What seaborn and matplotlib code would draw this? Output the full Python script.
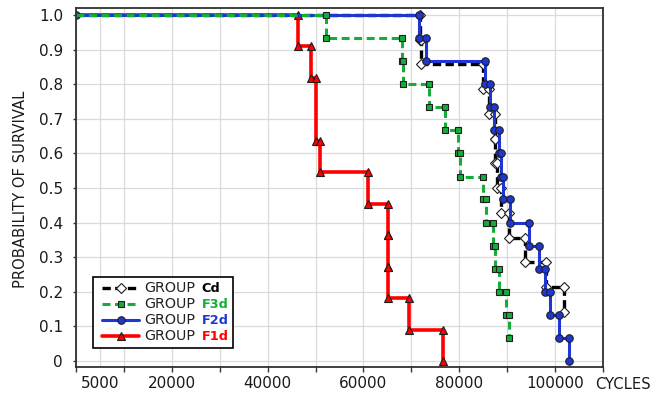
import numpy as np
import pandas as pd
import matplotlib
matplotlib.use("Agg")
import matplotlib.pyplot as plt
import seaborn as sns
from matplotlib.ticker import FixedLocator, FixedFormatter
from matplotlib.lines import Line2D
from matplotlib.offsetbox import AnchoredOffsetbox, DrawingArea, HPacker, VPacker, TextArea

# Kaplan-Meier steps: cycles at each failure and survival after it
cd_cycles = [71700, 72000, 85000, 86150, 87400, 87500, 87950, 88650, 90450, 93650, 98000, 101900]
cd_surv = [0.929, 0.857, 0.786, 0.714, 0.643, 0.571, 0.500, 0.429, 0.357, 0.286, 0.214, 0.143]

f3d_cycles = [52100, 68050, 68150, 73750, 77100, 79700, 80200, 84950, 85650, 87000, 87450, 88350, 89850, 90300]
f3d_surv = [0.933, 0.867, 0.800, 0.733, 0.667, 0.600, 0.533, 0.467, 0.400, 0.333, 0.267, 0.200, 0.133, 0.067]

f2d_cycles = [71650, 73150, 85350, 86500, 87150, 88350, 88750, 89200, 90550, 94450, 96650, 97900, 98900, 100850, 102800]
f2d_surv = [0.933, 0.867, 0.800, 0.733, 0.667, 0.600, 0.533, 0.467, 0.400, 0.333, 0.267, 0.200, 0.133, 0.067, 0.0]

f1d_cycles = [46400, 49100, 50000, 50950, 61050, 65200, 65200, 65200, 69600, 76500]
f1d_surv = [0.909, 0.818, 0.636, 0.545, 0.455, 0.364, 0.273, 0.182, 0.091, 0.0]

groups = ["Cd", "F3d", "F2d", "F1d"]
x_labels = ["", "", "20000", "", "40000", "", "60000", "", "80000", "", "100000", ""]
y_labels = ["0", "0.1", "0.2", "0.3", "0.4", "0.5", "0.6", "0.7", "0.8", "0.9", "1.0"]


def km_steps(group, cycles, surv):
    xs, ys, prev = [0], [1.0], 1.0
    for t, s in zip(cycles, surv):
        xs += [t, t]
        ys += [prev, s]
        prev = s
    return pd.DataFrame({"group": group, "cycles": xs, "survival": ys})


df = pd.concat([
    km_steps("Cd", cd_cycles, cd_surv),
    km_steps("F3d", f3d_cycles, f3d_surv),
    km_steps("F2d", f2d_cycles, f2d_surv),
    km_steps("F1d", f1d_cycles, f1d_surv),
])

colors = {"Cd": "#000000", "F3d": "#14ad3a", "F2d": "#2036d2", "F1d": "#ff0000"}
styles = {
    "F1d": dict(marker="^", linestyle="-", linewidth=2.6, markersize=5.3, markerfacecolor="#ff0000"),
    "Cd": dict(marker="D", linestyle=(0, (2.5, 1.3)), linewidth=2.4, markersize=4.6, markerfacecolor="white"),
    "F2d": dict(marker="o", linestyle="-", linewidth=2.2, markersize=5.4, markerfacecolor="#2036d2"),
    "F3d": dict(marker="s", linestyle=(0, (2.6, 1.5)), linewidth=2.2, markersize=4.3, markerfacecolor="#14ad3a"),
}
edge = "#1e1e1e"

sns.set_theme(style="whitegrid")
plt.rcParams["font.family"] = ["DejaVu Sans"]

fig = plt.figure(figsize=(6.66, 3.95), dpi=100)
ax = fig.add_axes([76 / 666, 1 - 367 / 395, 527 / 666, 359 / 395])

# drawing order: red at the bottom, green dashes on top
for g in ["F1d", "Cd", "F2d", "F3d"]:
    sub = df[df["group"] == g]
    sns.lineplot(data=sub, x="cycles", y="survival", sort=False, estimator=None, errorbar=None,
                 ax=ax, color=colors[g], markeredgecolor=edge, markeredgewidth=0.8,
                 markevery=slice(0, None) if g == "F2d" else slice(1, None),
                 **styles[g])

ax.set_xlim(0, 110000)
ax.set_ylim(-0.017, 1.02)
ax.set_xlabel("")
ax.set_ylabel("")

ax.xaxis.set_major_locator(FixedLocator(list(range(0, 110001, 10000))))
ax.xaxis.set_major_formatter(FixedFormatter(x_labels))
ax.xaxis.set_minor_locator(FixedLocator([5000]))
ax.xaxis.set_minor_formatter(FixedFormatter(["5000"]))
ax.yaxis.set_major_locator(FixedLocator(np.linspace(0, 1, 11)))
ax.yaxis.set_major_formatter(FixedFormatter(y_labels))

ax.tick_params(axis="x", which="major", bottom=True, direction="out", length=3.6, width=1,
               color="#333333", labelsize=11, pad=3, labelcolor="#1a1a1a")
ax.tick_params(axis="x", which="minor", bottom=True, length=0, labelsize=11, pad=6.6,
               labelcolor="#1a1a1a")
ax.tick_params(axis="y", left=True, direction="out", length=2.5, width=1, color="#333333",
               labelsize=11, pad=6.9, labelcolor="#1a1a1a")

ax.set_axisbelow(True)
ax.xaxis.grid(True, which="both", color="#dadada", linewidth=0.9)
ax.yaxis.grid(True, which="major", color="#dadada", linewidth=0.9)
for s in ax.spines.values():
    s.set_visible(True)
    s.set_color("#303030")
    s.set_linewidth(1.3)

# legend with plain "GROUP" and a bold coloured group name
pt = 72 / 100
rows = []
for g in groups:
    st = styles[g]
    da = DrawingArea(42 * pt, 10 * pt, 0, 0)
    da.add_artist(Line2D([5 * pt, 42 * pt], [5 * pt, 5 * pt], color=colors[g],
                         linestyle=st["linestyle"], linewidth=st["linewidth"]))
    da.add_artist(Line2D([23.5 * pt], [5 * pt], linestyle="none", marker=st["marker"],
                         markersize=st["markersize"], markerfacecolor=st["markerfacecolor"],
                         markeredgecolor=edge, markeredgewidth=0.8))
    words = HPacker(children=[
        TextArea("GROUP", textprops=dict(size=10.3, color="#222222")),
        TextArea(g, textprops=dict(size=9.3, weight="bold", color=colors[g])),
    ], align="baseline", pad=0, sep=4.6)
    rows.append(HPacker(children=[da, words], align="center", pad=0, sep=3.4))

box = VPacker(children=rows, align="left", pad=0, sep=1.5)
leg = AnchoredOffsetbox(loc="lower left", child=box, pad=0.32, borderpad=0, frameon=True,
                        bbox_to_anchor=(0.032, 0.053), bbox_transform=ax.transAxes,
                        prop=dict(size=10.3))
leg.patch.set_edgecolor("black")
leg.patch.set_facecolor("white")
leg.patch.set_linewidth(1.2)
leg.set_zorder(5)
ax.add_artist(leg)

fig.text(21 / 666, 1 - 189.5 / 395, "PROBABILITY OF SURVIVAL", rotation=90,
         ha="center", va="center", fontsize=10.6, color="#1a1a1a")
fig.text(595 / 666, 1 - 389 / 395, "CYCLES", ha="left", va="baseline",
         fontsize=10.6, color="#1a1a1a")

fig.savefig("out.png", dpi=100)
